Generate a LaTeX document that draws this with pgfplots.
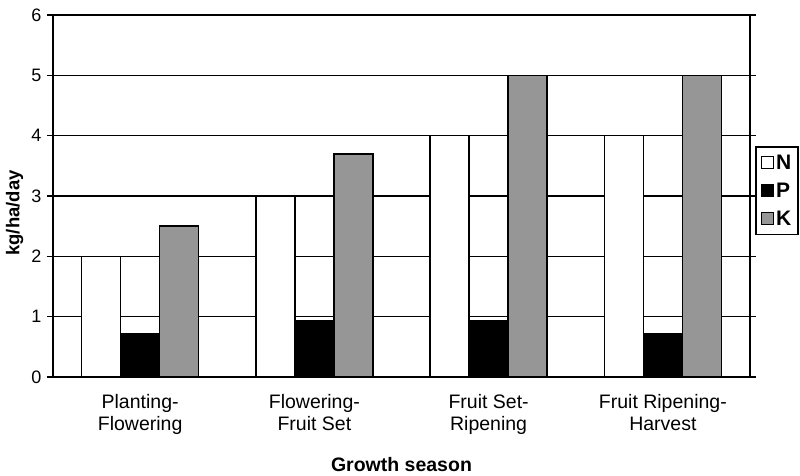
\documentclass[border=0pt]{standalone}
\usepackage{pgfplots}
\pgfplotsset{compat=1.18}
\usepackage{fontspec}
\setmainfont{Liberation Sans}
\definecolor{kgray}{RGB}{150,150,150}
\begin{document}
\begin{tikzpicture}
\useasboundingbox (-53pt,-98pt) rectangle (747pt,377pt);
\begin{axis}[
  at={(0,0)}, anchor=south west,
  scale only axis, width=697pt, height=362pt,
  xmin=-0.5, xmax=3.5, ymin=0, ymax=6,
  ybar, bar width=0.224,
  axis line style={black, line width=1.6pt},
  xtick={0,1,2,3},
  xticklabels={Planting-\\Flowering, Flowering-\\Fruit Set, Fruit Set-\\Ripening, Fruit Ripening-\\Harvest},
  major x tick style={draw=none},
  extra x ticks={-0.5,0.5,1.5,2.5,3.5},
  extra x tick labels={},
  extra x tick style={major tick length=7pt, tick style={black, line width=1.5pt, draw=black}, tick align=outside, xmajorgrids=false},
  ytick={0,1,2,3,4,5,6},
  tick align=outside, major tick length=6pt,
  tick style={black, line width=1.5pt},
  ymajorgrids, grid style={black, line width=1.3pt},
  xticklabel style={align=center, font=\fontsize{19.5}{22}\selectfont, yshift=-8pt},
  yticklabel style={font=\fontsize{18}{20}\selectfont, xshift=-2pt},
  /pgf/number format/assume math mode=true,
  xlabel={Growth season},
  xlabel style={at={(axis description cs:0.5,-0.2624)}, anchor=base, font=\fontsize{19.5}{22}\selectfont\bfseries},
  ylabel={kg/ha/day},
  ylabel style={at={(axis description cs:-0.0552,0.453)}, anchor=center, font=\fontsize{18.5}{20}\selectfont\bfseries},
  legend style={at={(axis description cs:1.0072,0.638)}, anchor=north west, draw=black, line width=1.5pt,
    font=\fontsize{21}{23}\selectfont\bfseries, inner xsep=5pt, inner ysep=6pt, row sep=8pt,
    /tikz/every even column/.append style={column sep=0pt}},
  legend cell align=left,
  legend image code/.code={\draw[#1, line width=1.3pt] (0pt,-6pt) rectangle (12pt,6pt);},
]
\addplot[draw=black, line width=1.6pt, fill=white, bar shift=-0.224] coordinates {(0,2) (1,3) (2,4) (3,4)};
\addplot[draw=black, line width=1.6pt, fill=black, bar shift=0] coordinates {(0,0.72) (1,0.93) (2,0.93) (3,0.72)};
\addplot[draw=black, line width=1.6pt, fill=kgray, bar shift=0.224] coordinates {(0,2.5) (1,3.7) (2,5) (3,5)};
\legend{N,P,K}
\end{axis}
\end{tikzpicture}
\end{document}
